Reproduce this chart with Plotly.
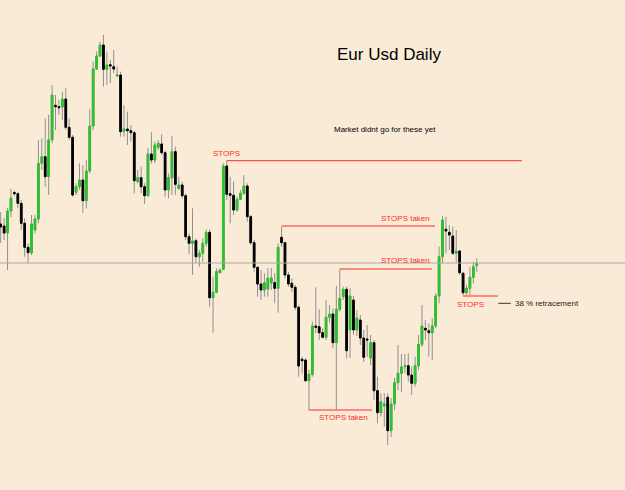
import plotly.graph_objects as go

# ---- data: daily candles (price levels in chart units, higher = higher price) ----
open_ = [276, 274, 267, 289, 307.5, 306.3, 296.7, 276.7, 252.7, 247.3,
         270, 281, 336.7, 343.3, 323.3, 360, 394.7, 393.3, 393, 401,
         372.7, 362.7, 307.7, 313.3, 320, 299.3, 329, 374, 431, 444,
         455, 430.7, 435.3, 433.3, 424, 425, 368.7, 371, 369.3, 367.3,
         318.3, 322.3, 313.3, 304.3, 346, 340, 352.7, 356, 347.3, 310,
         322.3, 348.3, 311.7, 315, 304.3, 263.3, 256.7, 259.3, 243.3, 246.7,
         256.7, 267.7, 202.3, 207.7, 227.3, 230.7, 334, 306.3, 304.7, 290,
         300.7, 306.7, 314, 283.3, 257.3, 232.7, 216, 210, 211, 217,
         217.3, 211.7, 262.7, 257.3, 225, 216.7, 212.7, 192.7, 140.7, 140,
         119.3, 125.7, 174, 173.3, 167.3, 162.7, 182.7, 186, 157.3, 190.7,
         203.3, 210.7, 170, 200, 170, 180, 162, 161, 142, 157.3,
         109.3, 87.3, 94, 102.7, 69.3, 96, 117.3, 126.7, 133.3, 134.3,
         125, 116.7, 134.3, 155.7, 171.7, 169.3, 167.3, 174, 204, 243.3,
         270.7, 267.7, 264, 246.7, 249, 226.7, 207.3, 211.7, 222.7, 234.3]
high = [288, 282, 292, 311, 309.5, 308.3, 300, 281.7, 256.7, 285,
        285, 360, 361.7, 381.7, 385, 415, 405, 400, 408.3, 411.7,
        381.7, 365, 316.7, 336.7, 335, 340, 390.7, 438.3, 448.3, 458.3,
        465, 448.3, 440, 450, 433.3, 428.3, 395, 388.3, 375, 369.3,
        330, 333.3, 316.7, 351.7, 367.7, 358.3, 360, 365.7, 349.3, 326.7,
        364, 353.3, 323.3, 318.3, 306.7, 266.7, 291.7, 261.7, 250, 261.7,
        270.7, 270.7, 223.3, 231.7, 231.7, 336.7, 339.3, 323.3, 318.3, 303.3,
        310, 325, 316.7, 285, 260, 233.3, 230, 226.7, 231.7, 232,
        226.7, 256.7, 273.3, 258.3, 228.3, 221.7, 215, 195, 143.3, 141.7,
        130, 178.3, 212.7, 190.7, 171.7, 200, 195, 191.7, 214, 230.7,
        213.3, 213.3, 211.7, 204, 190, 185, 170, 175, 165, 160,
        123.3, 106.7, 106.7, 106.7, 102, 122, 155, 146, 146, 146.7,
        133.3, 143.3, 165, 195, 180, 176.7, 181.7, 206.7, 253.3, 284,
        283.3, 275, 273.3, 270, 250, 228.3, 215, 233.3, 238.3, 241.7]
low = [257, 260, 230, 283, 304, 291.7, 270, 243.3, 236.7, 245,
       266.7, 276.7, 330, 313.3, 305, 356.7, 370, 385, 380, 370,
       360, 303.3, 305, 310, 287.3, 291.7, 326.7, 370, 430, 443,
       413.3, 415, 416.7, 426.7, 423.3, 363.3, 363.3, 355, 358.3, 306.7,
       316.7, 306.7, 296, 303.3, 336.7, 336.7, 350, 345, 303.3, 301.7,
       305, 305, 310, 301.7, 260, 246, 225, 236.7, 233.3, 238.3,
       253.3, 193.3, 167.3, 206.7, 226.7, 230, 300, 276.7, 285, 288.3,
       300, 305, 278.3, 255, 228.3, 203.3, 200, 203.3, 203.3, 210,
       196.7, 187.3, 253.3, 221.7, 213.3, 208.3, 190, 123.3, 126.7, 118.3,
       90, 123.3, 166.7, 160, 161.7, 160, 177.3, 151.7, 90, 188.3,
       200, 141.7, 142, 165, 164, 155, 138, 143, 135, 100,
       76.7, 83.3, 73.3, 55, 63, 90, 110, 108, 126.7, 118.3,
       105, 113.3, 130, 153.3, 160, 143.3, 140, 171.7, 196.7, 236.7,
       246.7, 250, 245, 238.3, 225, 205, 205, 205, 216.7, 228.3]
close = [273, 267, 289, 302, 306.3, 296.7, 276.7, 252.7, 247.3, 276,
         281, 336.7, 343.3, 323.3, 360, 405, 393.3, 392.3, 401, 372.7,
         362.7, 305, 313.3, 320, 299.3, 329, 374, 431, 444, 455,
         430.7, 435, 434, 431, 425, 368.3, 371, 369.3, 367.3, 319.3,
         322.3, 313.3, 304.3, 346, 340, 355, 356.7, 347.3, 310, 322.3,
         348.3, 315.7, 315, 304.3, 263.3, 256.7, 259, 243.3, 246.7, 256.7,
         267.7, 202.3, 207.7, 228.3, 230, 334, 305.7, 304.7, 290, 300.7,
         306.7, 314, 283.3, 257.3, 232.7, 216, 210, 217.3, 222, 222,
         211.7, 252.7, 257.3, 225, 216, 212.7, 192.7, 134, 139.3, 119.3,
         125.7, 174, 172.7, 167.3, 162.7, 182.7, 186, 157.3, 190.7, 201.7,
         210.7, 149.3, 204, 170, 182, 162, 142.7, 160, 157.3, 109.3,
         87.3, 98.3, 96, 69.3, 96, 117.3, 126.7, 133, 134.3, 125,
         116.7, 134.3, 155.7, 174, 170, 167.3, 174, 204, 243.3, 280,
         269, 265, 246.7, 249, 227.3, 207.3, 211.7, 222.7, 233.3, 236.7]
days = list(range(1, len(close) + 1))

# stop levels marked on the chart: (level, first bar, last bar)
stop_levels = [339.3, 274.0, 231.0, 90.0, 204.0]
stop_start = [67, 83, 100, 91, 136]
stop_end = [153.2, 127.8, 126.9, 109.4, 146.2]
ref_level = 237.0   # grey horizontal (current price) line

BG = "#FAEBD7"
GREEN = "#2cc22c"
RED = "#ff2b2b"
WICK = "#8f8f8f"

body_hi = [max(o, c) for o, c in zip(open_, close)]
body_lo = [min(o, c) for o, c in zip(open_, close)]

fig = go.Figure()
# wicks
fig.add_trace(go.Candlestick(
    x=days, open=open_, high=high, low=low, close=close,
    increasing=dict(line=dict(color=WICK, width=1), fillcolor=WICK),
    decreasing=dict(line=dict(color=WICK, width=1), fillcolor=WICK),
    hoverinfo="skip", showlegend=False))
# bodies
fig.add_trace(go.Candlestick(
    x=days, open=open_, high=body_hi, low=body_lo, close=close,
    increasing=dict(line=dict(color=GREEN, width=1), fillcolor=GREEN),
    decreasing=dict(line=dict(color="#000000", width=1), fillcolor="#000000"),
    hoverinfo="skip", showlegend=False))

shapes = []
shapes.append(dict(type="line", xref="paper", yref="y", x0=0, x1=1,
                   y0=ref_level, y1=ref_level, line=dict(color="#a9a9a9", width=1)))
for lv, s, e in zip(stop_levels, stop_start, stop_end):
    shapes.append(dict(type="line", xref="x", yref="y", x0=s, x1=e, y0=lv, y1=lv,
                       line=dict(color=RED, width=1)))
# small dash before the retracement note
shapes.append(dict(type="line", xref="x", yref="y", x0=146.3, x1=149.9, y0=196.7, y1=196.7,
                   line=dict(color="#333333", width=1)))

FONT = "Liberation Sans, Arial, sans-serif"
ann = []
def txt(x, y, t, color, size, xanchor="center", xref="x", yref="y"):
    ann.append(dict(x=x, y=y, xref=xref, yref=yref, text=t, showarrow=False,
                    xanchor=xanchor, yanchor="middle",
                    font=dict(family=FONT, size=size, color=color)))

txt(0.6216, 0.888, "Eur Usd Daily", "#000000", 17, xref="paper", yref="paper")
txt(0.616, 0.7357, "Market didnt go for these yet", "#000000", 8, xref="paper", yref="paper")
txt(67.0, 346.7, "STOPS", RED, 8)
txt(119.3, 281.3, "STOPS taken", RED, 8)
txt(119.3, 239.3, "STOPS taken", RED, 8)
txt(101.1, 82.5, "STOPS taken", RED, 8)
txt(138.1, 195.7, "STOPS", RED, 8)
txt(150.7, 197.0, "38 % retracement", "#222222", 8, xanchor="left")

fig.update_layout(
    width=625, height=490,
    margin=dict(l=0, r=0, t=0, b=0),
    paper_bgcolor=BG, plot_bgcolor=BG,
    showlegend=False, hovermode=False,
    shapes=shapes, annotations=ann,
    xaxis=dict(range=[0.7956, 183.28], visible=False, showgrid=False,
               rangeslider=dict(visible=False), fixedrange=True),
    yaxis=dict(range=[10, 500], visible=False, showgrid=False, fixedrange=True),
)

fig.write_html("out.html")
